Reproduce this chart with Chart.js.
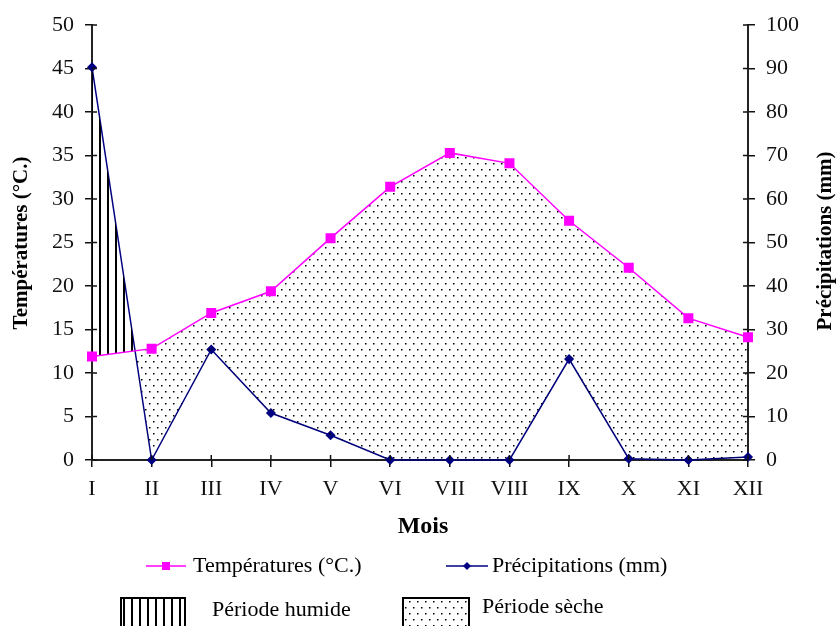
<!DOCTYPE html>
<html>
<head>
<meta charset="utf-8">
<script src="https://cdn.jsdelivr.net/npm/chart.js@4.4.0/dist/chart.umd.min.js"></script>
<style>
	html, body { margin: 0; padding: 0; background: #fff; }
	#wrap { width: 838px; height: 626px; }
</style>
</head>
<body>
<div id="wrap"><canvas id="myChart"></canvas></div>
<script>
// données du diagramme ombrothermique
const mois = ['I', 'II', 'III', 'IV', 'V', 'VI', 'VII', 'VIII', 'IX', 'X', 'XI', 'XII'];
const temperatures = [11.9, 12.8, 16.9, 19.4, 25.5, 31.4, 35.3, 34.1, 27.5, 22.1, 16.3, 14.1];
const precipitations = [90.3, 0, 25.4, 10.8, 5.7, 0, 0, 0, 23.2, 0.3, 0, 0.7];
const ticksTemp = [0, 5, 10, 15, 20, 25, 30, 35, 40, 45, 50];
const ticksPrecip = [0, 10, 20, 30, 40, 50, 60, 70, 80, 90, 100];

const SERIF = '"Liberation Serif", "DejaVu Serif", serif';
const MAGENTA = '#ff00ff';
const NAVY = '#000080';

// motifs : points (période sèche) et hachures verticales (période humide)
function makeDots() {
	let c = document.createElement('canvas');
	c.width = 8; c.height = 12;
	let g = c.getContext('2d');
	g.fillStyle = '#000';
	g.fillRect(1, 1, 1.5, 1.5);
	g.fillRect(5, 7, 1.5, 1.5);
	return g.createPattern(c, 'repeat');
}
function makeHatch() {
	let c = document.createElement('canvas');
	c.width = 8; c.height = 4;
	let g = c.getContext('2d');
	g.fillStyle = '#000';
	g.fillRect(3, 0, 2, 4);
	return g.createPattern(c, 'repeat');
}
const dots = makeDots();
const hatch = makeHatch();

// titres, petites graduations intérieures et légende
const decor = {
	id: 'decor',
	afterDraw(chart) {
		const ctx = chart.ctx;
		const a = chart.chartArea;
		ctx.save();

		// graduations qui traversent les axes
		ctx.strokeStyle = '#111';
		ctx.lineWidth = 1.5;
		let sx = chart.scales.x, sy = chart.scales.y, sy1 = chart.scales.y1;
		for (let i = 0; i < sx.ticks.length; i++) {
			let px = sx.getPixelForTick(i);
			ctx.beginPath(); ctx.moveTo(px, a.bottom); ctx.lineTo(px, a.bottom - 5); ctx.stroke();
		}
		for (let i = 0; i < sy.ticks.length; i++) {
			let py = sy.getPixelForTick(i);
			ctx.beginPath(); ctx.moveTo(a.left, py); ctx.lineTo(a.left + 5, py); ctx.stroke();
		}
		for (let i = 0; i < sy1.ticks.length; i++) {
			let py = sy1.getPixelForTick(i);
			ctx.beginPath(); ctx.moveTo(a.right, py); ctx.lineTo(a.right - 5, py); ctx.stroke();
		}

		ctx.fillStyle = '#000';
		ctx.textAlign = 'center';
		ctx.textBaseline = 'middle';
		ctx.font = 'bold 24px ' + SERIF;
		ctx.fillText('Mois', 423, 527);

		ctx.font = 'bold 21px ' + SERIF;
		ctx.save();
		ctx.translate(22, 243);
		ctx.rotate(-Math.PI / 2);
		ctx.fillText('Températures (°C.)', 0, 0);
		ctx.restore();

		ctx.save();
		ctx.translate(826, 241);
		ctx.rotate(-Math.PI / 2);
		ctx.fillText('Précipitations (mm)', 0, 0);
		ctx.restore();

		// légende
		ctx.font = '22px ' + SERIF;
		ctx.textAlign = 'left';
		ctx.strokeStyle = MAGENTA;
		ctx.lineWidth = 1.5;
		ctx.beginPath(); ctx.moveTo(146, 566); ctx.lineTo(186, 566); ctx.stroke();
		ctx.fillStyle = MAGENTA;
		ctx.fillRect(162, 562, 8, 8);
		ctx.fillStyle = '#000';
		ctx.fillText('Températures (°C.)', 193, 566);

		ctx.strokeStyle = NAVY;
		ctx.beginPath(); ctx.moveTo(446, 566); ctx.lineTo(488, 566); ctx.stroke();
		ctx.fillStyle = NAVY;
		ctx.beginPath();
		ctx.moveTo(467, 562); ctx.lineTo(471, 566); ctx.lineTo(467, 570); ctx.lineTo(463, 566);
		ctx.closePath(); ctx.fill();
		ctx.fillStyle = '#000';
		ctx.fillText('Précipitations (mm)', 492, 566);

		ctx.fillStyle = hatch;
		ctx.fillRect(121, 598, 64, 28);
		ctx.strokeStyle = '#000';
		ctx.lineWidth = 2;
		ctx.strokeRect(121, 598, 64, 30);
		ctx.fillStyle = dots;
		ctx.fillRect(403, 598, 66, 28);
		ctx.strokeRect(403, 598, 66, 30);
		ctx.fillStyle = '#000';
		ctx.fillText('Période humide', 212, 610);
		ctx.fillText('Période sèche', 482, 607);

		ctx.restore();
	}
};

window.addEventListener("load", function() {
	let data = {
		labels: mois,
		datasets: [
			{
				label: 'Températures (°C.)',
				data: temperatures,
				yAxisID: 'y',
				borderColor: MAGENTA,
				backgroundColor: MAGENTA,
				borderWidth: 1.5,
				pointStyle: 'rect',
				pointRadius: 6,
				pointBackgroundColor: MAGENTA,
				pointBorderColor: MAGENTA,
				clip: false,
				fill: { target: 1, above: dots, below: hatch }
			},
			{
				label: 'Précipitations (mm)',
				data: precipitations,
				yAxisID: 'y1',
				borderColor: NAVY,
				backgroundColor: NAVY,
				borderWidth: 1.5,
				pointStyle: 'rectRot',
				pointRadius: 4,
				pointBackgroundColor: NAVY,
				pointBorderColor: NAVY,
				clip: false,
				fill: false
			}
		]
	};

	let tickFont = { family: SERIF, size: 22 };

	let options = {
		responsive: true,
		maintainAspectRatio: false,
		animation: false,
		layout: { padding: { top: 25, left: 0, right: 0, bottom: 0 } },
		plugins: {
			legend: { display: false },
			tooltip: { enabled: false }
		},
		scales: {
			x: {
				offset: false,
				grid: { drawOnChartArea: false, tickLength: 7, color: '#111', lineWidth: 1.5 },
				border: { color: '#222', width: 2 },
				ticks: { font: tickFont, color: '#111', padding: 9, maxRotation: 0, autoSkip: false },
				afterFit(scale) { scale.height = 166; }
			},
			y: {
				position: 'left',
				min: 0, max: 50,
				afterBuildTicks(scale) { scale.ticks = ticksTemp.map(v => ({ value: v })); },
				grid: { drawOnChartArea: false, tickLength: 7, color: '#111', lineWidth: 1.5 },
				border: { color: '#222', width: 2 },
				ticks: { font: tickFont, color: '#111', padding: 11 },
				afterFit(scale) { scale.width = 92; }
			},
			y1: {
				position: 'right',
				min: 0, max: 100,
				afterBuildTicks(scale) { scale.ticks = ticksPrecip.map(v => ({ value: v })); },
				grid: { drawOnChartArea: false, tickLength: 7, color: '#111', lineWidth: 1.5 },
				border: { color: '#222', width: 2 },
				ticks: { font: tickFont, color: '#111', padding: 11 },
				afterFit(scale) { scale.width = 90; }
			}
		}
	};

	const ctx = document.getElementById('myChart').getContext('2d');

	let myChart = new Chart(ctx, {
		type: 'line',
		data: data,
		options: options,
		plugins: [decor]
	});
});
</script>
</body>
</html>
